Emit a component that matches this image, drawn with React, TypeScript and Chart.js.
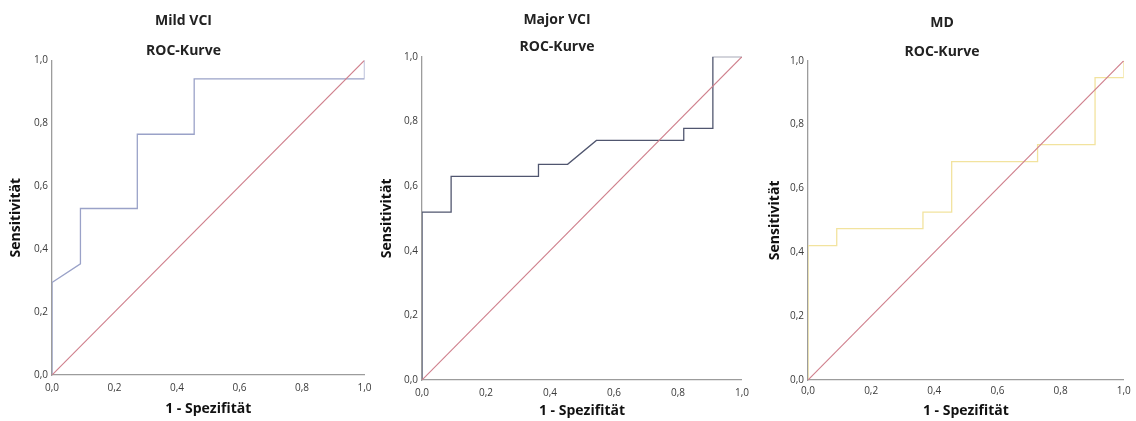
import React, { useEffect, useRef } from "react";
import { Chart, registerables } from "chart.js";

Chart.register(...registerables);

// ---------- data ----------
const tickValues = [0, 0.2, 0.4, 0.6, 0.8, 1.0];

const panelTitles = ["Mild VCI", "Major VCI", "MD"];
const subTitle = "ROC-Kurve";
const xAxisTitle = "1 - Spezifität";
const yAxisTitle = "Sensitivität";

const mildFpr = [0, 0, 0.091, 0.091, 0.273, 0.273, 0.455, 0.455, 1.0, 1.0];
const mildTpr = [0, 0.294, 0.353, 0.529, 0.529, 0.765, 0.765, 0.941, 0.941, 1.0];

const majorFpr = [0, 0, 0.091, 0.091, 0.364, 0.364, 0.455, 0.545, 0.818, 0.818, 0.909, 0.909, 1.0];
const majorTpr = [0, 0.519, 0.519, 0.63, 0.63, 0.667, 0.667, 0.741, 0.741, 0.778, 0.778, 1.0, 1.0];

const mdFpr = [0, 0, 0.091, 0.091, 0.364, 0.364, 0.455, 0.455, 0.727, 0.727, 0.909, 0.909, 1.0, 1.0];
const mdTpr = [0, 0.421, 0.421, 0.474, 0.474, 0.526, 0.526, 0.684, 0.684, 0.737, 0.737, 0.947, 0.947, 1.0];

const diagX = [0, 1];
const diagY = [0, 1];

// ---------- layout / style ----------
const FONT = "'Open Sans', 'DejaVu Sans', sans-serif";
const H = 421;

type PanelSpec = {
  title: string;
  fpr: number[];
  tpr: number[];
  color: string;
  left: number;
  width: number;
  padRight: number;
  yAxisWidth: number;
  xAxisHeight: number;
  titlePad: { top: number; bottom: number };
  subPadBottom: number;
  yTitlePad: number;
  xTitlePad: number;
  xTickPad: number;
};

const panels: PanelSpec[] = [
  {
    title: panelTitles[0], fpr: mildFpr, tpr: mildTpr, color: "#9aa2c8",
    left: 0, width: 379, padRight: 12, yAxisWidth: 52, xAxisHeight: 46,
    titlePad: { top: 12.6, bottom: 12.9 }, subPadBottom: 1.2,
    yTitlePad: 7.6, xTitlePad: 3.6, xTickPad: 7.5,
  },
  {
    title: panelTitles[1], fpr: majorFpr, tpr: majorTpr, color: "#50566f",
    left: 370, width: 386, padRight: 12, yAxisWidth: 52, xAxisHeight: 41,
    titlePad: { top: 11.6, bottom: 10.5 }, subPadBottom: 1.0,
    yTitlePad: 8.3, xTitlePad: 1.9, xTickPad: 7,
  },
  {
    title: panelTitles[2], fpr: mdFpr, tpr: mdTpr, color: "#f2e39e",
    left: 756, width: 380, padRight: 8, yAxisWidth: 52, xAxisHeight: 41,
    titlePad: { top: 14.6, bottom: 11.9 }, subPadBottom: 0.6,
    yTitlePad: 10.6, xTitlePad: 1.9, xTickPad: 5.2,
  },
];

const fmt = (v: number) => v.toFixed(1).replace(".", ",");

function Panel({ spec }: { spec: PanelSpec }) {
  const ref = useRef<HTMLCanvasElement | null>(null);

  useEffect(() => {
    if (!ref.current) return;
    const rocPoints = spec.fpr.map((x, i) => ({ x, y: spec.tpr[i] }));
    const diagPoints = diagX.map((x, i) => ({ x, y: diagY[i] }));
    const tickFont = { family: FONT, size: 10 };
    const titleFont = { family: FONT, size: 14, weight: "bold" as const, lineHeight: 1.2 };

    const chart = new Chart(ref.current, {
      type: "scatter",
      data: {
        datasets: [
          {
            label: "Diagonal",
            data: diagPoints,
            showLine: true,
            borderColor: "#cf7f8c",
            borderWidth: 1.1,
            pointRadius: 0,
            order: 0,
          },
          {
            label: "ROC",
            data: rocPoints,
            showLine: true,
            borderColor: spec.color,
            borderWidth: 1.3,
            pointRadius: 0,
            order: 1,
          },
        ],
      },
      options: {
        animation: false,
        responsive: false,
        devicePixelRatio: 1,
        layout: { padding: { left: 0, right: spec.padRight, top: 0, bottom: 0 } },
        plugins: {
          legend: { display: false },
          tooltip: { enabled: false },
          title: {
            display: true,
            text: spec.title,
            color: "#222",
            font: titleFont,
            padding: spec.titlePad,
          },
          subtitle: {
            display: true,
            text: subTitle,
            color: "#222",
            font: titleFont,
            padding: { top: 0, bottom: spec.subPadBottom },
          },
        },
        scales: {
          x: {
            type: "linear",
            min: 0,
            max: 1,
            afterBuildTicks: (s: any) => {
              s.ticks = tickValues.map((v) => ({ value: v }));
            },
            afterFit: (s: any) => {
              s.height = spec.xAxisHeight;
            },
            ticks: {
              color: "#3a3a3a",
              font: tickFont,
              padding: spec.xTickPad,
              callback: (v: any) => fmt(Number(v)),
              maxRotation: 0,
            },
            grid: { display: true, drawOnChartArea: false, drawTicks: false },
            border: { display: true, color: "#9c9c9c", width: 1.3 },
            title: {
              display: true,
              text: xAxisTitle,
              color: "#111",
              font: titleFont,
              padding: { top: 0, bottom: spec.xTitlePad },
            },
          },
          y: {
            type: "linear",
            min: 0,
            max: 1,
            afterBuildTicks: (s: any) => {
              s.ticks = tickValues.map((v) => ({ value: v }));
            },
            afterFit: (s: any) => {
              s.width = spec.yAxisWidth;
            },
            ticks: {
              color: "#3a3a3a",
              font: tickFont,
              padding: 4,
              callback: (v: any) => fmt(Number(v)),
            },
            grid: { display: true, drawOnChartArea: false, drawTicks: false },
            border: { display: true, color: "#9c9c9c", width: 1.3 },
            title: {
              display: true,
              text: yAxisTitle,
              color: "#111",
              font: titleFont,
              padding: { top: spec.yTitlePad, bottom: 0 },
            },
          },
        },
      },
    });
    return () => chart.destroy();
  }, [spec]);

  return (
    <canvas
      ref={ref}
      width={spec.width}
      height={H}
      style={{ position: "absolute", left: spec.left, top: 0, width: spec.width, height: H }}
    />
  );
}

export default function App() {
  return (
    <div style={{ position: "absolute", left: 0, top: 0, width: 1136, height: H, background: "#fff" }}>
      {panels.map((p) => (
        <Panel key={p.title} spec={p} />
      ))}
    </div>
  );
}
